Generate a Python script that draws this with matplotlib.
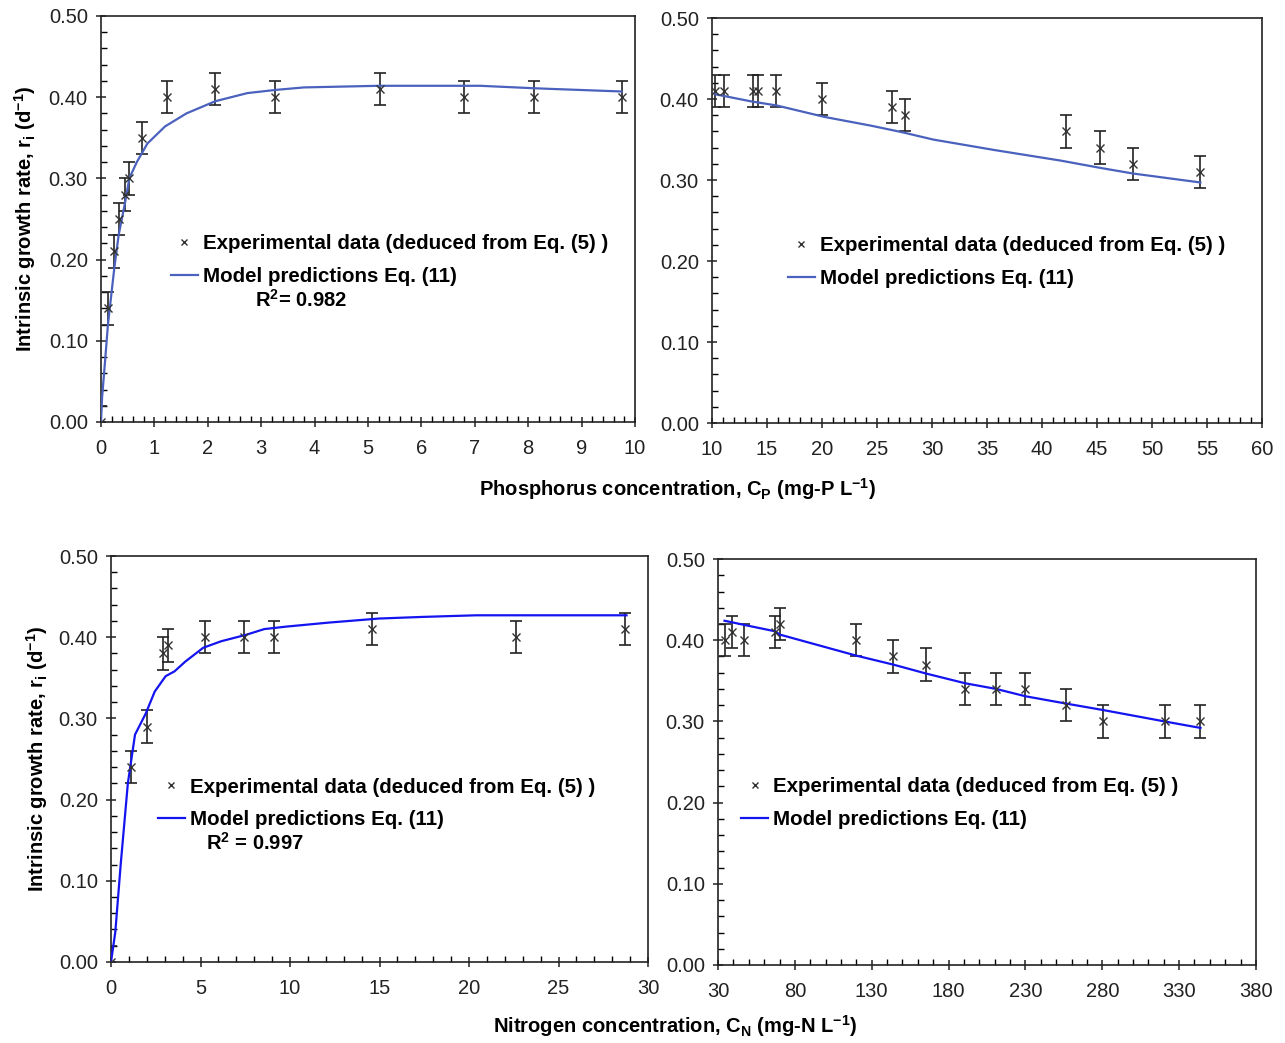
import matplotlib
matplotlib.use("Agg")
import matplotlib.pyplot as plt
from matplotlib.ticker import MultipleLocator, FormatStrFormatter
from matplotlib.lines import Line2D

plt.rcParams["font.family"] = ["Liberation Sans", "DejaVu Sans"]
plt.rcParams["mathtext.fontset"] = "custom"
plt.rcParams["mathtext.rm"] = "Liberation Sans"
plt.rcParams["mathtext.bf"] = "Liberation Sans:bold"
plt.rcParams["mathtext.default"] = "bf"

# phosphorus, low range (0-10 mg-P/L)
p_low_x = [0.0, 0.13, 0.25, 0.33, 0.45, 0.52, 0.76, 1.24, 2.14, 3.26, 5.23, 6.80, 8.11, 9.75]
p_low_y = [0.00, 0.14, 0.21, 0.25, 0.28, 0.30, 0.35, 0.40, 0.41, 0.40, 0.41, 0.40, 0.40, 0.40]
p_low_model_x = [0.0, 0.02, 0.07, 0.13, 0.25, 0.33, 0.45, 0.53, 0.67, 0.87, 1.2, 1.6, 2.14,
                 2.74, 3.28, 3.8, 4.5, 5.2, 6.0, 7.1, 8.1, 8.5, 9.75]
p_low_model_y = [0.0, 0.03, 0.07, 0.12, 0.19, 0.23, 0.27, 0.30, 0.32, 0.343, 0.364, 0.38, 0.395,
                 0.405, 0.409, 0.412, 0.413, 0.414, 0.414, 0.414, 0.411, 0.41, 0.407]

# phosphorus, high range (10-60 mg-P/L)
p_high_x = [10.26, 11.1, 13.7, 14.2, 15.8, 20.0, 26.4, 27.5, 42.2, 45.3, 48.3, 54.4]
p_high_y = [0.41, 0.41, 0.41, 0.41, 0.41, 0.40, 0.39, 0.38, 0.36, 0.34, 0.32, 0.31]
p_high_model_x = [10.26, 13.6, 15.9, 20.2, 24.5, 27.3, 30.1, 35.7, 41.7, 45.3, 48.3, 54.4]
p_high_model_y = [0.406, 0.397, 0.392, 0.378, 0.367, 0.359, 0.350, 0.337, 0.324, 0.315, 0.308, 0.297]

# nitrogen, low range (0-30 mg-N/L)
n_low_x = [0.0, 1.1, 2.0, 2.9, 3.2, 5.25, 7.45, 9.1, 14.6, 22.6, 28.7]
n_low_y = [0.00, 0.24, 0.29, 0.38, 0.39, 0.40, 0.40, 0.40, 0.41, 0.40, 0.41]
n_low_model_x = [0.0, 0.24, 0.54, 0.94, 1.34, 1.94, 2.44, 3.05, 3.55, 4.15, 5.15, 6.15, 7.55,
                 8.56, 9.76, 12.16, 14.97, 17.4, 20.4, 28.8]
n_low_model_y = [0.0, 0.037, 0.12, 0.22, 0.28, 0.306, 0.333, 0.352, 0.358, 0.37, 0.387, 0.395,
                 0.403, 0.41, 0.413, 0.418, 0.423, 0.425, 0.427, 0.427]

# nitrogen, high range (30-380 mg-N/L)
n_high_x = [34.2, 39.3, 46.7, 67.1, 70.1, 120.0, 144.0, 165.3, 190.8, 211.0, 230.0, 256.4,
            280.6, 320.5, 343.9]
n_high_y = [0.40, 0.41, 0.40, 0.41, 0.42, 0.40, 0.38, 0.37, 0.34, 0.34, 0.34, 0.32, 0.30,
            0.30, 0.30]
n_high_model_x = [34.2, 39.3, 46.7, 67.1, 70.1, 120.0, 144.0, 165.3, 190.8, 211.0, 230.0,
                  256.4, 280.6, 320.5, 343.9]
n_high_model_y = [0.424, 0.422, 0.419, 0.411, 0.407, 0.381, 0.370, 0.359, 0.347, 0.340,
                  0.331, 0.322, 0.314, 0.300, 0.292]

ERR = 0.02

EXP_LABEL = "Experimental data (deduced from Eq. (5) )"
MODEL_LABEL = "Model predictions Eq. (11)"
YLABEL = r"Intrinsic growth rate, r$_\mathbf{i}$ (d$^\mathbf{-1}$)"

FS = 14.5


def draw_panel(ax, x, y, mx, my, color, xlim, xmajor, xminor, legend_at, r2=None):
    ax.errorbar(x, y, yerr=[ERR] * len(x), fmt="none", ecolor="#222222",
                elinewidth=1.2, capsize=4.5, capthick=1.2, zorder=2)
    ax.plot(mx, my, color=color, linewidth=1.6, zorder=3)
    ax.plot(x, y, "x", color="#333333", markersize=5.5, markeredgewidth=1.0, zorder=4)

    ax.set_xlim(*xlim)
    ax.set_ylim(0, 0.5)
    ax.xaxis.set_major_locator(MultipleLocator(xmajor, offset=xlim[0] % xmajor))
    ax.xaxis.set_minor_locator(MultipleLocator(xminor))
    ax.yaxis.set_major_locator(MultipleLocator(0.1))
    ax.yaxis.set_minor_locator(MultipleLocator(0.02))
    ax.yaxis.set_major_formatter(FormatStrFormatter("%.2f"))
    ax.tick_params(which="major", direction="inout", length=7, width=1.1,
                   labelsize=FS, colors="#222222")
    ax.tick_params(axis="x", which="major", pad=9)
    ax.tick_params(axis="y", which="major", pad=6)
    ax.tick_params(which="minor", direction="in", length=4, width=1.0)
    for s in ax.spines.values():
        s.set_linewidth(1.2)
        s.set_color("#222222")

    handles = [
        Line2D([], [], linestyle="none", marker="x", color="#333333",
               markersize=5, markeredgewidth=1.0),
        Line2D([], [], color=color, linewidth=1.6),
    ]
    ax.legend(handles, [EXP_LABEL, MODEL_LABEL], loc="upper left",
              bbox_to_anchor=legend_at, frameon=False, borderpad=0,
              borderaxespad=0, handlelength=1.3, handletextpad=0.25,
              labelspacing=0.65, prop={"weight": "bold", "size": 14.8})
    if r2 is not None:
        ax.text(r2[0], r2[1], r2[2], transform=ax.transAxes, ha="left", va="center",
                fontsize=FS, fontweight="bold")


fig = plt.figure(figsize=(12.85, 10.43), dpi=100)

ax1 = fig.add_axes([0.0786, 0.5954, 0.4156, 0.3893])
ax2 = fig.add_axes([0.5541, 0.5944, 0.4280, 0.3883])
ax3 = fig.add_axes([0.0864, 0.0777, 0.4179, 0.3892])
ax4 = fig.add_axes([0.5588, 0.0748, 0.4186, 0.3892])

top_blue = "#4a62bd"
bottom_blue = "#1414f0"

draw_panel(ax1, p_low_x, p_low_y, p_low_model_x, p_low_model_y, top_blue,
           (0, 10), 1, 0.2, (0.131, 0.462), (0.288, 0.300, r"R$^2$= 0.982"))
draw_panel(ax2, p_high_x, p_high_y, p_high_model_x, p_high_model_y, top_blue,
           (10, 60), 5, 1, (0.138, 0.461))
draw_panel(ax3, n_low_x, n_low_y, n_low_model_x, n_low_model_y, bottom_blue,
           (0, 30), 5, 1, (0.0875, 0.454), (0.177, 0.293, r"R$^2$ = 0.997"))
draw_panel(ax4, n_high_x, n_high_y, n_high_model_x, n_high_model_y, bottom_blue,
           (30, 380), 50, 10, (0.043, 0.462))

ax1.set_ylabel(YLABEL, fontsize=FS, fontweight="bold", labelpad=8)
ax3.set_ylabel(YLABEL, fontsize=FS, fontweight="bold", labelpad=6)

fig.text(0.527, 0.531, r"Phosphorus concentration, C$_\mathbf{P}$ (mg-P L$^\mathbf{-1}$)",
         ha="center", va="center", fontsize=FS, fontweight="bold")
fig.text(0.525, 0.0163, r"Nitrogen concentration, C$_\mathbf{N}$ (mg-N L$^\mathbf{-1}$)",
         ha="center", va="center", fontsize=FS, fontweight="bold")

fig.savefig("out.png", dpi=100)
